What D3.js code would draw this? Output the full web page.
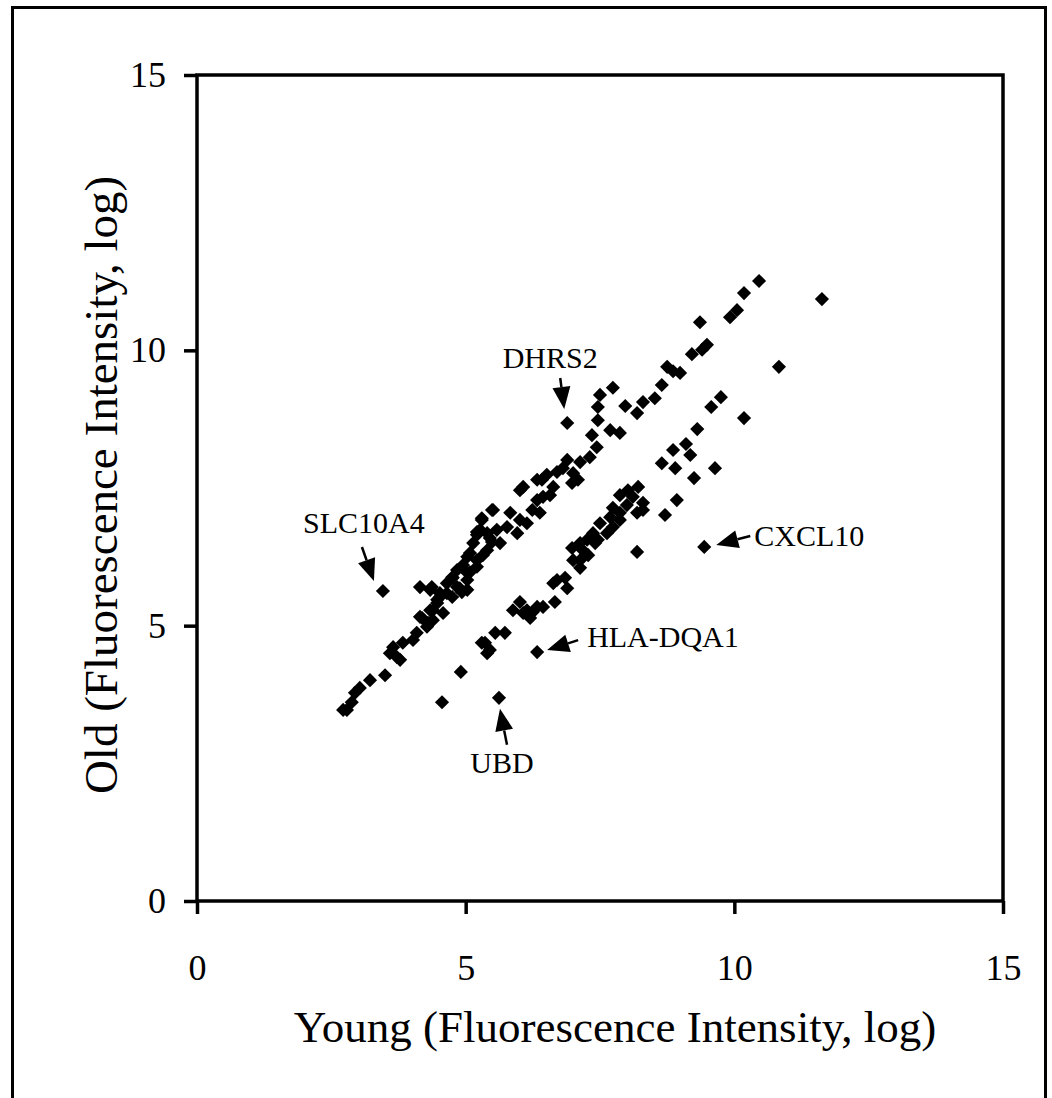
<!DOCTYPE html>
<html>

<head>
    <script src="https://d3js.org/d3.v7.min.js"></script>
    <style>
        body {
            margin: 0;
            background-color: #ffffff;
        }
        text {
            font-family: "Liberation Serif", "Times New Roman", serif;
        }
    </style>
</head>

<body>
    <svg id="canvas" width="1052" height="1098"></svg>
    <script>
        const svg = d3.select('#canvas');
        const MARGIN = { left: 197, right: 1003, top: 75, bottom: 901 };
        const TICK_LEN = 13;
        const SQUARE_SIDE = 10;

        //axis ticks
        const xTicks = [0, 5, 10, 15];
        const yTicks = [0, 5, 10, 15];

        //upper band: [young, old]
        const upperBand = [
            [2.72, 3.47], [2.79, 3.47], [2.88, 3.61], [2.94, 3.78], [3.03, 3.87], [3.22, 4.01],
            [3.50, 4.10], [3.59, 4.50], [3.65, 4.61], [3.72, 4.43], [3.78, 4.38], [3.83, 4.69],
            [4.02, 4.74], [4.09, 4.87], [4.28, 4.98], [4.15, 5.16], [4.39, 5.10], [4.34, 5.28],
            [4.47, 5.41], [4.15, 5.70], [4.34, 5.65], [4.52, 5.52], [4.65, 5.59], [4.89, 5.68],
            [5.03, 5.65], [4.76, 5.87], [5.03, 5.96], [5.21, 6.07], [5.03, 6.25], [5.32, 6.28],
            [5.14, 6.50], [5.49, 6.52], [5.21, 6.70], [5.40, 6.68], [5.30, 6.92], [5.49, 7.10],
            [4.19, 5.14], [4.30, 5.05], [4.58, 5.23], [4.39, 5.28], [4.47, 5.47], [4.75, 5.52],
            [4.93, 5.61], [4.52, 5.59], [4.37, 5.70], [4.84, 5.70], [4.65, 5.77], [5.03, 5.83],
            [4.75, 5.88], [5.08, 5.97], [4.84, 6.01], [4.95, 6.10], [5.21, 6.19], [5.08, 6.32],
            [5.40, 6.37], [5.64, 6.50], [5.45, 6.59], [5.21, 6.65], [5.96, 6.68], [5.58, 6.74],
            [5.27, 6.74], [5.77, 6.79], [6.14, 6.86], [6.01, 6.92], [5.30, 6.95], [5.51, 7.10],
            [5.83, 7.05], [6.38, 7.05], [6.24, 7.10], [6.33, 7.28], [6.44, 7.34], [6.57, 7.37],
            [6.01, 7.46], [6.07, 7.52], [6.63, 7.52], [6.33, 7.65], [6.42, 7.65], [6.51, 7.74],
            [6.98, 7.59], [7.09, 7.65], [7.00, 7.77], [6.70, 7.79], [6.81, 7.86], [6.89, 8.01],
            [7.13, 7.97], [7.31, 8.06], [7.44, 8.24], [7.35, 8.46], [7.69, 8.55], [7.87, 8.50],
            [7.46, 8.73], [7.46, 8.97], [7.50, 9.19], [7.74, 9.32], [7.97, 8.99], [8.19, 8.86],
            [8.30, 9.06], [8.52, 9.13], [8.65, 9.37], [8.75, 9.70], [8.86, 9.62], [8.99, 9.59],
            [9.21, 9.93], [9.40, 10.01], [9.49, 10.10], [9.36, 10.51], [9.92, 10.60], [10.05, 10.73],
            [10.18, 11.04], [10.46, 11.26]
        ];

        //lower band: [young, old]
        const lowerBand = [
            [4.56, 3.61], [4.91, 4.16], [5.36, 4.69], [5.55, 4.87], [5.40, 4.50], [5.45, 4.56],
            [5.30, 4.69], [5.73, 4.87], [5.88, 5.28], [6.25, 5.25], [6.44, 5.34], [6.66, 5.43],
            [6.01, 5.43], [6.14, 5.28], [6.33, 5.34], [6.20, 5.14], [6.07, 5.23], [6.70, 5.83],
            [6.85, 5.87], [6.89, 5.68], [6.63, 5.77], [7.13, 6.05], [7.00, 6.19], [7.13, 6.19],
            [7.28, 6.28], [7.18, 6.37], [6.98, 6.41], [7.26, 6.56], [7.46, 6.56], [7.41, 6.50],
            [7.13, 6.50], [7.37, 6.68], [7.63, 6.68], [7.50, 6.86], [7.74, 6.79], [7.69, 6.97],
            [7.87, 6.92], [7.87, 7.05], [7.74, 7.14], [8.19, 7.05], [8.00, 7.19], [8.30, 7.23],
            [8.11, 7.34], [7.87, 7.37], [8.02, 7.46], [8.21, 7.52], [8.19, 6.34], [8.71, 7.01],
            [8.93, 7.28], [8.65, 7.95], [8.86, 8.19], [8.90, 7.86], [9.10, 8.30], [9.18, 8.10],
            [9.64, 7.86], [9.25, 7.68], [9.31, 8.57], [9.57, 8.97], [9.75, 9.15], [10.18, 8.77],
            [10.83, 9.70], [11.63, 10.93], [8.30, 7.10]
        ];

        //labelled genes
        const geneNames = ['DHRS2', 'SLC10A4', 'CXCL10', 'HLA-DQA1', 'UBD'];
        const geneValues = [[6.89, 8.68], [3.46, 5.63], [9.44, 6.43], [6.33, 4.52], [5.62, 3.69]];

        //label layout in pixels, relative to the point: tail, tip, text pos, anchor
        const labelLayout = {
            'DHRS2': { tail: [-7, -45], tip: [-3, -14], text: [-17, -55], anchor: 'middle' },
            'SLC10A4': { tail: [-21, -44], tip: [-9, -10], text: [-19, -58], anchor: 'middle' },
            'CXCL10': { tail: [46, -11], tip: [12, -2], text: [50, -1], anchor: 'start' },
            'HLA-DQA1': { tail: [41, -12], tip: [10, -2], text: [50, -5], anchor: 'start' },
            'UBD': { tail: [8, 47], tip: [1, 11], text: [3, 75], anchor: 'middle' }
        };

        const x = d3.scaleLinear().domain([0, 15]).range([MARGIN.left, MARGIN.right]);
        const y = d3.scaleLinear().domain([0, 15]).range([MARGIN.bottom, MARGIN.top]);

        //outer border
        svg.append('rect')
            .attr('x', 12.5).attr('y', 7.5)
            .attr('width', 1033).attr('height', 1200)
            .attr('fill', 'none')
            .attr('stroke', '#000')
            .attr('stroke-width', 3);

        //plot frame
        svg.append('rect')
            .attr('x', MARGIN.left).attr('y', MARGIN.top)
            .attr('width', MARGIN.right - MARGIN.left)
            .attr('height', MARGIN.bottom - MARGIN.top)
            .attr('fill', 'none')
            .attr('stroke', '#000')
            .attr('stroke-width', 3.5);

        const xAxis = svg.append('g')
            .attr('transform', `translate(0,${MARGIN.bottom})`)
            .call(d3.axisBottom(x).tickValues(xTicks).tickSize(TICK_LEN).tickSizeOuter(0).tickPadding(40));

        const yAxis = svg.append('g')
            .attr('transform', `translate(${MARGIN.left},0)`)
            .call(d3.axisLeft(y).tickValues(yTicks).tickSize(TICK_LEN).tickSizeOuter(0).tickPadding(18));

        [xAxis, yAxis].forEach(g => {
            g.select('.domain').remove();
            g.selectAll('line').attr('stroke', '#000').attr('stroke-width', 3.5);
            g.selectAll('text')
                .attr('fill', '#000')
                .style('font-family', '"Liberation Serif", "Times New Roman", serif')
                .style('font-size', '36px');
        });

        //axis titles
        svg.append('text')
            .attr('x', 615)
            .attr('y', 1042)
            .attr('text-anchor', 'middle')
            .style('font-size', '45px')
            .text('Young (Fluorescence Intensity, log)');

        svg.append('text')
            .attr('transform', `translate(117,${(MARGIN.top + MARGIN.bottom) / 2 - 3}) rotate(-90)`)
            .attr('text-anchor', 'middle')
            .style('font-size', '47px')
            .text('Old (Fluorescence Intensity, log)');

        //points: squares turned 45 degrees
        const square = d3.symbol().type(d3.symbolSquare).size(SQUARE_SIDE * SQUARE_SIDE);
        const allPoints = [...upperBand, ...lowerBand, ...geneValues];
        svg.append('g')
            .selectAll('path')
            .data(allPoints)
            .join('path')
            .attr('d', square)
            .attr('transform', d => `translate(${x(d[0])},${y(d[1])}) rotate(45)`)
            .attr('fill', '#000');

        //gene labels with arrows
        const genes = geneNames.map((name, i) => ({ name, v: geneValues[i], lay: labelLayout[name] }));
        const ann = svg.append('g');
        genes.forEach(g => {
            const px = x(g.v[0]), py = y(g.v[1]);
            const t0 = [px + g.lay.tail[0], py + g.lay.tail[1]];
            const t1 = [px + g.lay.tip[0], py + g.lay.tip[1]];
            const dx = t1[0] - t0[0], dy = t1[1] - t0[1];
            const len = Math.sqrt(dx * dx + dy * dy);
            const ux = dx / len, uy = dy / len;
            const headLen = 22, headW = 9;
            const base = [t1[0] - ux * headLen, t1[1] - uy * headLen];
            ann.append('line')
                .attr('x1', t0[0]).attr('y1', t0[1])
                .attr('x2', base[0]).attr('y2', base[1])
                .attr('stroke', '#000')
                .attr('stroke-width', 2.5);
            ann.append('polygon')
                .attr('points', [
                    t1,
                    [base[0] - uy * headW, base[1] + ux * headW],
                    [base[0] + uy * headW, base[1] - ux * headW]
                ].map(p => p.join(',')).join(' '))
                .attr('fill', '#000');
            ann.append('text')
                .attr('x', px + g.lay.text[0])
                .attr('y', py + g.lay.text[1])
                .attr('text-anchor', g.lay.anchor)
                .style('font-size', '30px')
                .text(g.name);
        });
    </script>
</body>

</html>
